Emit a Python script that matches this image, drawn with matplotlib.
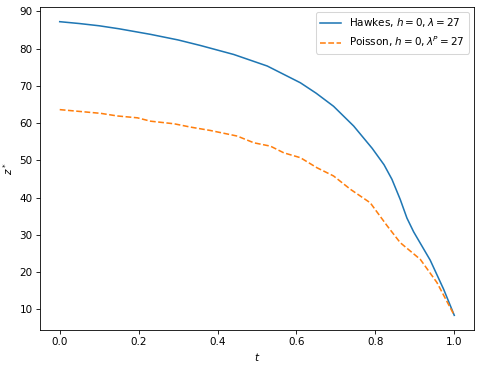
import numpy as np
import matplotlib
matplotlib.use('Agg')
import matplotlib.pyplot as plt

# values
t_hawkes = [0.0, 0.05, 0.1, 0.15, 0.23, 0.3, 0.357, 0.441, 0.526, 0.61, 0.65, 0.694,
            0.745, 0.792, 0.822, 0.842, 0.863, 0.88, 0.897, 0.939, 0.973, 1.0]
z_hawkes = [87.2, 86.7, 86.1, 85.3, 83.8, 82.3, 80.8, 78.4, 75.3, 70.8, 68.0, 64.5,
            59.2, 53.2, 48.8, 44.9, 39.5, 34.5, 30.8, 23.2, 15.4, 8.4]

t_poisson = [0.0, 0.104, 0.146, 0.197, 0.23, 0.29, 0.332, 0.382, 0.45, 0.492, 0.534,
             0.568, 0.61, 0.652, 0.694, 0.737, 0.787, 0.83, 0.863, 0.914, 0.956, 1.0]
z_poisson = [63.6, 62.6, 61.9, 61.4, 60.5, 59.8, 58.9, 58.0, 56.5, 54.7, 53.8,
             52.0, 50.7, 48.0, 45.8, 42.2, 38.6, 32.4, 27.9, 23.4, 17.2, 8.4]

fig = plt.figure(figsize=(481/75, 367/75), dpi=75)
ax = fig.add_axes([40/481, 37/367, 434/481, 323/367])
ax.plot(t_hawkes, z_hawkes, '-', color='#1f77b4', label=r'Hawkes, $h=0, \lambda=27$')
ax.plot(t_poisson, z_poisson, '--', color='#ff7f0e', label=r'Poisson, $h=0, \lambda^P=27$')
ax.set_xlabel(r'$t$')
ax.set_ylabel(r'$z^*$')
ax.set_yticks([10, 20, 30, 40, 50, 60, 70, 80, 90])
ax.legend(loc='upper right')
fig.savefig('out.png', dpi=75)
